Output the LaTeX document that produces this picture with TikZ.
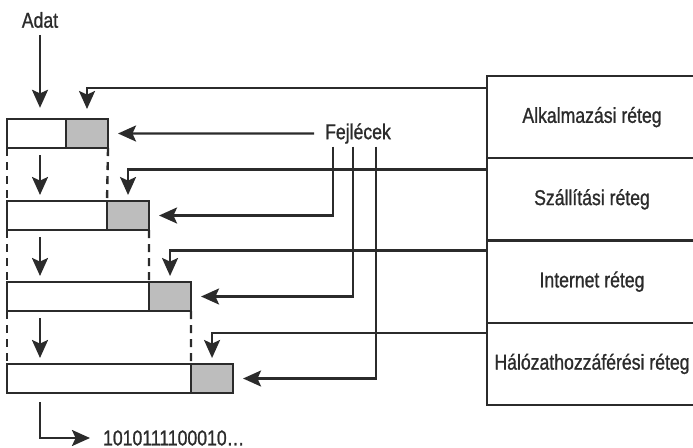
\documentclass[tikz,border=0pt]{standalone}
\usepackage{fontspec}
\setmainfont[FakeStretch=0.82, FakeBold=1]{Liberation Sans}
\usepackage{xcolor}
\usepackage{tikz}
\usetikzlibrary{positioning,arrows.meta}
\definecolor{ink}{HTML}{2B2B2B}
\definecolor{hdrgray}{HTML}{BDBDBD}

\begin{document}
\begin{tikzpicture}[
    x=0.025cm, y=-0.025cm,
    font=\fontsize{15.3}{18}\selectfont,
    data/.style={rectangle, draw=ink, line width=1.7pt, outer sep=0pt, inner sep=0pt,
                 minimum height=0.725cm, anchor=north west},
    hdr/.style={data, fill=hdrgray, minimum width=1.05cm},
    layer/.style={rectangle, draw=ink, line width=1.7pt, outer sep=0pt, inner sep=0pt,
                  minimum width=5.25cm, minimum height=2.056cm, anchor=north west, text=ink},
    lbl/.style={text=ink, inner sep=2pt},
    arr/.style={-{Stealth[length=0.45cm, width=0.4cm, inset=0.09cm]}, line width=1.7pt, draw=ink},
    dsh/.style={draw=ink, line width=1.7pt, dash pattern=on 0.2cm off 0.15cm}
]
\useasboundingbox (0,0) rectangle (693,448);
\clip (0,0) rectangle (693,448);

% layers
\node[layer] (app) at (487,76) {Alkalmazási réteg};
\node[layer, below=0pt of app] (trans) {Szállítási réteg};
\node[layer, below=0pt of trans] (inet) {Internet réteg};
\node[layer, below=0pt of inet] (netacc) {Hálózathozzáférési réteg};

% packets
\node[data, minimum width=1.475cm] (data1) at (7,119) {};
\node[hdr, right=0pt of data1] (hdr1) {};
\node[data, minimum width=2.5cm] (data2) at (7,201) {};
\node[hdr, right=0pt of data2] (hdr2) {};
\node[data, minimum width=3.55cm] (data3) at (7,282) {};
\node[hdr, right=0pt of data3] (hdr3) {};
\node[data, minimum width=4.6cm] (data4) at (7,364) {};
\node[hdr, right=0pt of data4] (hdr4) {};

\node[lbl] (adat) at (40,20) {Adat};
\node[lbl] (fejl) at (358,133.5) {Fejlécek};
\node[lbl, anchor=west] (bits) at (100,438) {1010111100010\ldots};

% data flow
\draw[arr, shorten <=0.1cm, shorten >=0.28cm] (adat.south) -- (adat.south |- data1.north);
\draw[arr, shorten <=0.18cm, shorten >=0.15cm] (data1.south -| adat) -- (data2.north -| adat);
\draw[arr, shorten <=0.18cm, shorten >=0.15cm] (data2.south -| adat) -- (data3.north -| adat);
\draw[arr, shorten <=0.18cm, shorten >=0.15cm] (data3.south -| adat) -- (data4.north -| adat);
\draw[arr, shorten <=0.23cm, shorten >=0.25cm] (data4.south -| adat) |- (bits.west);

\draw[dsh] (data1.south west) -- (data2.north west);
\draw[dsh] (hdr1.south east) -- (data2.north east);
\draw[dsh] (data2.south west) -- (data3.north west);
\draw[dsh] (hdr2.south east) -- (data3.north east);
\draw[dsh] (data3.south west) -- (data4.north west);
\draw[dsh] (hdr3.south east) -- (data4.north east);

% layer -> header
\draw[arr, shorten >=0.25cm] ([yshift=-0.3cm]app.north west) -| (hdr1.north);
\draw[arr, shorten >=0.15cm] ([yshift=-0.28cm]trans.north west) -| (hdr2.north);
\draw[arr, shorten >=0.15cm] ([yshift=-0.25cm]inet.north west) -| (hdr3.north);
\draw[arr, shorten >=0.15cm] ([yshift=-0.25cm]netacc.north west) -| (hdr4.north);

% headers label
\draw[arr, shorten <=0.2cm, shorten >=0.25cm] (fejl.west) -- (hdr1.east);
\draw[arr, shorten >=0.25cm] ([xshift=-0.625cm]fejl.south) |- (hdr2.east);
\draw[arr, shorten >=0.25cm] ([xshift=-0.125cm]fejl.south) |- (hdr3.east);
\draw[arr, shorten >=0.25cm] ([xshift=0.45cm]fejl.south) |- (hdr4.east);
\end{tikzpicture}
\end{document}
